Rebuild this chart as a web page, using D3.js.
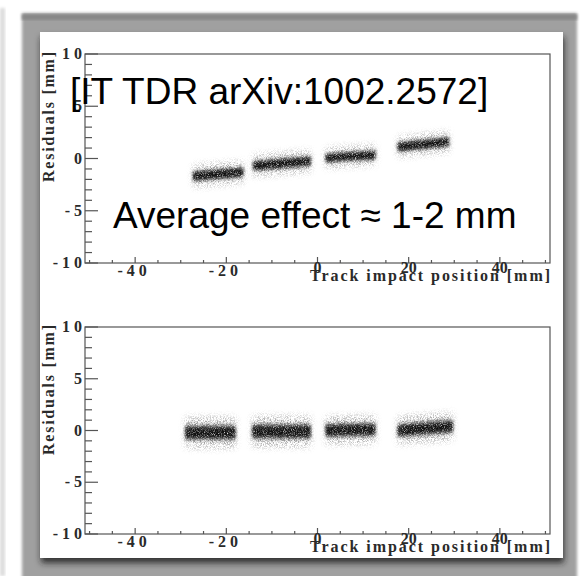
<!DOCTYPE html>
<html>
<head>
<meta charset="utf-8">
<script src="https://cdn.jsdelivr.net/npm/d3@7"></script>
<style>
  html, body { margin: 0; padding: 0; background: #fff; }
  svg { display: block; }
</style>
</head>
<body>
<svg id="chart" width="581" height="576"></svg>
<script>
// axis values / labels
const xDomain = [-51, 51];
const yDomain = [-10, 10];
const xMajor = [-40, -20, 0, 20, 40];
const xMajorLabels = ["- 4 0", "- 2 0", "0", "20", "40"];
const yMajor = [-10, -5, 0, 5, 10];
const yMajorLabels = ["- 1 0", "- 5", "0", "5", "1 0"];

// residual bands: one entry per sensor (start/end of track impact position, mean residual at each end, spread)
const beforeXStart = [-27.3, -14.1, 1.8, 17.6];
const beforeXEnd = [-16.3, -1.5, 12.7, 28.8];
const beforeYStart = [-1.7, -0.7, 0.05, 1.1];
const beforeYEnd = [-1.3, -0.25, 0.35, 1.6];
const beforeSpread = [0.35, 0.35, 0.32, 0.33];

const afterXStart = [-29.0, -14.3, 1.8, 17.6];
const afterXEnd = [-18.0, -1.5, 12.7, 29.7];
const afterYStart = [-0.2, -0.1, 0.0, 0.0];
const afterYEnd = [-0.2, -0.1, 0.1, 0.4];
const afterSpread = [0.5, 0.5, 0.45, 0.45];

const svg = d3.select("#chart");
const defs = svg.append("defs");

// soft blur for the frame
defs.append("filter").attr("id", "soft")
  .attr("x", "-5%").attr("y", "-5%").attr("width", "110%").attr("height", "110%")
  .append("feGaussianBlur").attr("stdDeviation", 1.5);

const shadow = defs.append("filter").attr("id", "panelShadow")
  .attr("x", "-5%").attr("y", "-5%").attr("width", "115%").attr("height", "115%");
shadow.append("feDropShadow")
  .attr("dx", 1).attr("dy", 5).attr("stdDeviation", 3)
  .attr("flood-color", "#1a1a1a").attr("flood-opacity", 0.85);

// grainy filter so the bands look like dense scatter
function grainFilter(id, blur, freq, k, b, seed) {
  const f = defs.append("filter").attr("id", id)
    .attr("x", "-20%").attr("y", "-100%").attr("width", "140%").attr("height", "300%");
  f.append("feGaussianBlur").attr("in", "SourceGraphic").attr("stdDeviation", blur).attr("result", "bl");
  f.append("feTurbulence").attr("type", "fractalNoise")
    .attr("baseFrequency", freq).attr("numOctaves", 2).attr("seed", seed).attr("result", "noise");
  f.append("feColorMatrix").attr("in", "noise").attr("type", "matrix")
    .attr("values", `0 0 0 0 0  0 0 0 0 0  0 0 0 0 0  ${k} 0 0 0 ${b}`).attr("result", "mask");
  f.append("feComposite").attr("in", "bl").attr("in2", "mask")
    .attr("operator", "arithmetic").attr("k1", 1).attr("k2", 0).attr("k3", 0).attr("k4", 0).attr("result", "gr");
  f.append("feGaussianBlur").attr("in", "gr").attr("stdDeviation", 0.45);
}
grainFilter("grainCore", 1.8, 1.1, 2.2, -0.25, 4);
grainFilter("grainHalo", 3.5, 1.3, 4, -1.7, 9);

// ---- picture frame ----
svg.append("rect").attr("x", 0).attr("y", 8).attr("width", 5).attr("height", 568)
  .attr("fill", "#dcdcdc").attr("filter", "url(#soft)");
svg.append("rect").attr("x", 22).attr("y", 13).attr("width", 555).attr("height", 570)
  .attr("fill", "#a0a0a0").attr("filter", "url(#soft)");
svg.append("rect").attr("x", 22).attr("y", 14).attr("width", 555).attr("height", 6)
  .attr("fill", "#878787").attr("filter", "url(#soft)");
svg.append("rect").attr("x", 40).attr("y", 32).attr("width", 523).attr("height", 526)
  .attr("fill", "#fff").attr("filter", "url(#panelShadow)");

const serif = "'Liberation Serif', 'Times New Roman', serif";
const sans = "'Liberation Sans', Arial, sans-serif";
const axisColor = "#555";
const textColor = "#2a2a2a";

const left = 85, right = 550;
const panels = [
  { top: 54, bottom: 263, xs: beforeXStart, xe: beforeXEnd, ys: beforeYStart, ye: beforeYEnd, sp: beforeSpread },
  { top: 327, bottom: 534, xs: afterXStart, xe: afterXEnd, ys: afterYStart, ye: afterYEnd, sp: afterSpread }
];

panels.forEach((p) => {
  const x = d3.scaleLinear().domain(xDomain).range([left, right]);
  const y = d3.scaleLinear().domain(yDomain).range([p.bottom, p.top]);
  const g = svg.append("g");

  // bands
  const band = (i, s) => [
    [x(p.xs[i]), y(p.ys[i] + s)],
    [x(p.xe[i]), y(p.ye[i] + s)],
    [x(p.xe[i]), y(p.ye[i] - s)],
    [x(p.xs[i]), y(p.ys[i] - s)]
  ];
  const poly = d3.line().curve(d3.curveLinearClosed);
  p.xs.forEach((_, i) => {
    g.append("path").attr("d", poly(band(i, p.sp[i] * 3)))
      .attr("fill", "#777").attr("opacity", 0.35).attr("filter", "url(#grainHalo)");
    g.append("path").attr("d", poly(band(i, p.sp[i] * 1.6)))
      .attr("fill", "#888").attr("opacity", 0.45).attr("filter", "url(#grainCore)");
    g.append("path").attr("d", poly(band(i, p.sp[i])))
      .attr("fill", "#2a2a2a").attr("opacity", 0.85).attr("filter", "url(#grainCore)");
  });

  // frame box
  g.append("rect").attr("x", left).attr("y", p.top)
    .attr("width", right - left).attr("height", p.bottom - p.top)
    .attr("fill", "none").attr("stroke", axisColor).attr("stroke-width", 1.2);

  // y axis ticks (inward)
  const yMinor = d3.range(yDomain[0], yDomain[1] + 1, 1);
  g.selectAll(".ymin").data(yMinor).enter().append("line")
    .attr("x1", left).attr("x2", (d) => left + (d % 5 === 0 ? 13 : 7))
    .attr("y1", (d) => y(d)).attr("y2", (d) => y(d))
    .attr("stroke", axisColor).attr("stroke-width", 1.2);

  // x axis ticks (upward)
  const xMinor = d3.range(-50, 51, 5);
  g.selectAll(".xmin").data(xMinor).enter().append("line")
    .attr("x1", (d) => x(d)).attr("x2", (d) => x(d))
    .attr("y1", p.bottom).attr("y2", (d) => p.bottom - (d % 20 === 0 ? 6 : 3))
    .attr("stroke", axisColor).attr("stroke-width", 1.2);

  // y tick labels
  g.selectAll(".ylab").data(yMajor).enter().append("text")
    .attr("x", 82).attr("y", (d) => y(d) + 5)
    .attr("text-anchor", "end")
    .style("font-family", serif).style("font-weight", "bold").style("font-size", "16px")
    .attr("fill", textColor)
    .text((d, i) => yMajorLabels[i]);

  // x tick labels
  g.selectAll(".xlab").data(xMajor).enter().append("text")
    .attr("x", (d) => x(d) - (d < 0 ? 3 : 0))
    .attr("y", (d) => p.bottom + (d < 0 ? 13 : 10))
    .attr("text-anchor", "middle")
    .style("font-family", serif).style("font-weight", "bold").style("font-size", "16px")
    .attr("fill", textColor)
    .text((d, i) => xMajorLabels[i]);

  // axis titles
  g.append("text")
    .attr("x", 310).attr("y", p.bottom + 18)
    .attr("textLength", 240).attr("lengthAdjust", "spacing")
    .style("font-family", serif).style("font-weight", "bold").style("font-size", "16px")
    .attr("fill", textColor)
    .text("Track impact position [mm]");

  g.append("text")
    .attr("transform", `translate(54,${p.top + 128}) rotate(-90)`)
    .attr("textLength", 130).attr("lengthAdjust", "spacing")
    .style("font-family", serif).style("font-weight", "bold").style("font-size", "16px")
    .attr("fill", textColor)
    .text("Residuals [mm]");
});

// overlay annotations
svg.append("text").attr("x", 70).attr("y", 104)
  .style("font-family", sans).style("font-size", "37px").attr("fill", "#000")
  .text("[IT TDR arXiv:1002.2572]");
svg.append("text").attr("x", 113).attr("y", 228)
  .style("font-family", sans).style("font-size", "37px").attr("fill", "#000")
  .text("Average effect \u2248 1-2 mm");
</script>
</body>
</html>
